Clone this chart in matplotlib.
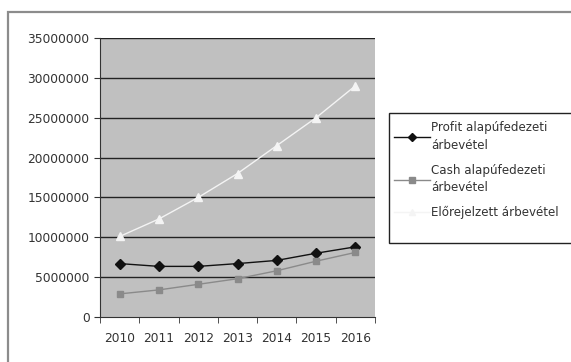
import matplotlib.pyplot as plt
import matplotlib.patches as patches

years = ["2010", "2011", "2012", "2013", "2014", "2015", "2016"]
profit = [6700000, 6350000, 6350000, 6700000, 7100000, 8000000, 8800000]
cash = [2900000, 3400000, 4100000, 4800000, 5800000, 7000000, 8100000]
forecast = [10100000, 12300000, 15000000, 18000000, 21500000, 25000000, 29000000]
yticks = [0, 5000000, 10000000, 15000000, 20000000, 25000000, 30000000, 35000000]

plt.rcParams['font.family'] = ['DejaVu Sans']

fig = plt.figure(figsize=(5.71, 3.62), dpi=100, facecolor='white')
W, H = 571, 362

# outer chart frame (only left and top edges visible)
fig.add_artist(patches.Rectangle((8 / W, -0.05), 1.2, 1 - 12 / H + 0.05,
                                 transform=fig.transFigure, facecolor='none',
                                 edgecolor='#8c8c8c', lw=1.6, zorder=5))

ax = fig.add_axes([100 / W, 1 - 317 / H, 275 / W, (317 - 38) / H])
ax.set_facecolor('#c0c0c0')
x = list(range(len(years)))
ax.set_xlim(-0.5, len(years) - 0.5)
ax.set_ylim(0, 35000000)
ax.set_yticks(yticks)
ax.set_yticklabels([str(v) for v in yticks])
for v in yticks[1:]:
    ax.axhline(v, color='#222222', lw=1.0, zorder=1)

ax.plot(x, profit, color='#111111', lw=1.0, marker='D', ms=5, label='Profit alapúfedezeti\nárbevétel', zorder=3)
ax.plot(x, cash, color='#8a8a8a', lw=1.0, marker='s', ms=5, label='Cash alapúfedezeti\nárbevétel', zorder=3)
ax.plot(x, forecast, color='#f4f4f4', lw=1.0, marker='^', ms=5.5, label='Előrejelzett árbevétel', zorder=3)

ax.set_xticks(x)
ax.set_xticklabels(years)
ax.set_xticks([i - 0.5 for i in range(len(years) + 1)], minor=True)
ax.tick_params(axis='x', which='major', length=0, pad=11, labelsize=8.8, colors='#333333')
ax.tick_params(axis='x', which='minor', length=4, color='#333333')
ax.tick_params(axis='y', length=4, labelsize=8.8, colors='#333333')
for s in ['top', 'right']:
    ax.spines[s].set_visible(False)
for s in ['left', 'bottom']:
    ax.spines[s].set_color('#333333')

# legend frame drawn separately (Excel-style, extra space at the bottom)
fig.add_artist(patches.Rectangle((389 / W, 1 - 243 / H), 1.0, 130 / H,
                                 transform=fig.transFigure, facecolor='white',
                                 edgecolor='#222222', lw=1.0, zorder=4))
leg = fig.legend(loc='upper left', bbox_to_anchor=(392 / W, 1 - 119 / H),
                 frameon=False, fontsize=8.6, labelspacing=1.0, markerscale=0.8,
                 handlelength=3.0, handletextpad=0.1, borderpad=0.2, borderaxespad=0)
leg.set_zorder(6)
for t in leg.get_texts():
    t.set_color('#333333')
    t.set_linespacing(1.45)

fig.savefig('out.png', dpi=100)
